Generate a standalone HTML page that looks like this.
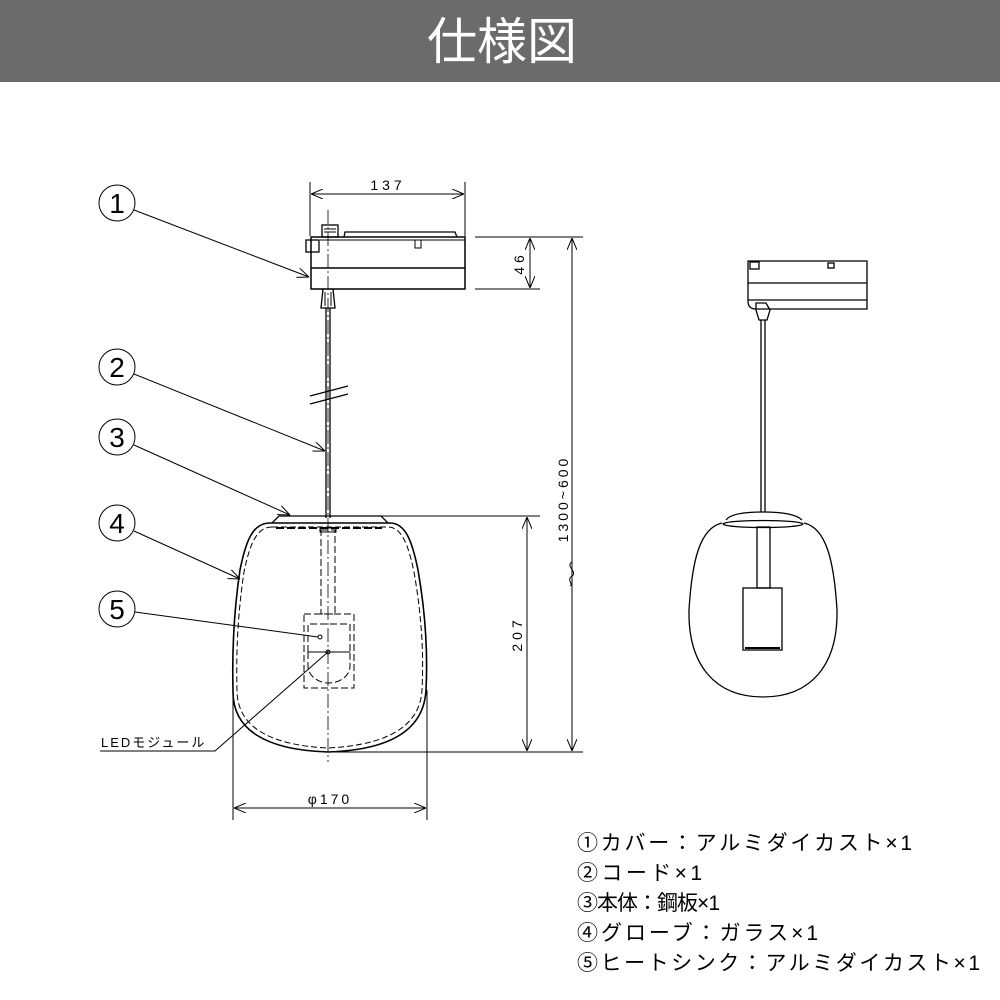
<!DOCTYPE html>
<html><head><meta charset="utf-8"><style>
html,body{margin:0;padding:0;background:#fff;}
svg{display:block;}
text{font-family:"Liberation Sans","Noto Sans CJK JP",sans-serif;}
</style></head><body>
<svg width="1000" height="1000" viewBox="0 0 1000 1000" xmlns="http://www.w3.org/2000/svg">
<defs>
<marker id="a" viewBox="0 0 12 10" refX="12" refY="5" markerWidth="12" markerHeight="10" orient="auto-start-reverse" markerUnits="userSpaceOnUse">
<path d="M0,0 L12,5 L0,10" fill="none" stroke="#000" stroke-width="1"/>
</marker>
</defs>
<rect x="0" y="0" width="1000" height="82" fill="#6b6b6b"/>
<text x="502" y="59" font-size="50" fill="#fff" text-anchor="middle" font-family="'Noto Sans CJK JP',sans-serif">仕様図</text>

<g stroke="#000" fill="none" stroke-width="1">
<line x1="310" y1="182" x2="310" y2="236"/>
<line x1="465" y1="182" x2="465" y2="236"/>
<line x1="311" y1="194" x2="464" y2="194" marker-start="url(#a)" marker-end="url(#a)"/>
<line x1="328" y1="210" x2="328" y2="762" stroke-dasharray="14,3,2,3" stroke-width="0.8"/>
<rect x="311" y="237" width="154" height="52" stroke-width="1.5"/>
<line x1="311" y1="268" x2="465" y2="268" stroke-width="1.5"/>
<path d="M344,237 L345,232 L455,232 L457,237" stroke-width="1.3"/>
<line x1="320" y1="240" x2="465" y2="240"/>
<rect x="306" y="240" width="13" height="12" stroke-width="1.3"/>
<rect x="322" y="225" width="16" height="12" stroke-width="1.3"/>
<line x1="324" y1="229" x2="336" y2="229"/><line x1="324" y1="232" x2="336" y2="232"/>
<path d="M415,240 L415,248 L421,248 L421,240"/>
<path d="M323,289 L321,308 L335,308 L333,289" stroke-width="1.3"/>
<line x1="325" y1="292" x2="325" y2="306"/><line x1="331" y1="292" x2="331" y2="306"/>
<line x1="326" y1="308" x2="326" y2="518" stroke-width="1.3"/>
<line x1="330" y1="308" x2="330" y2="518" stroke-width="1.3"/>
<line x1="310" y1="396" x2="348" y2="386" stroke-width="1.2"/>
<line x1="310" y1="404" x2="348" y2="394" stroke-width="1.2"/>
<line x1="475" y1="237" x2="583" y2="237"/>
<line x1="475" y1="289" x2="540" y2="289"/>
<line x1="530" y1="238" x2="530" y2="288" marker-start="url(#a)" marker-end="url(#a)"/>
<line x1="572" y1="238" x2="572" y2="751" marker-start="url(#a)" marker-end="url(#a)"/>
<path d="M572,562 C565,566 578,572 572,576 C566,580 574,584 570,586"/>
<line x1="380" y1="516" x2="540" y2="516"/>
<line x1="527" y1="517" x2="527" y2="751" marker-start="url(#a)" marker-end="url(#a)"/>
<line x1="330" y1="752" x2="583" y2="752"/>
<path d="M270,523 L390,523 C405,523 412,540 418,570 C425,610 428,650 426,690 C424,730 390,750 328,752 C266,750 232,730 233,690 C232,650 234,610 240,570 C246,540 253,523 270,523 Z" stroke-width="1.6"/>
<path d="M272,527 L388,527 C401,527 408,543 414,572 C421,612 424,650 422,690 C420,726 388,745 328,748 C268,745 237,726 237,690 C236,650 238,612 244,572 C250,543 257,527 272,527 Z" stroke-dasharray="6,3"/>
<path d="M272,523 L279,516 L381,516 L388,523" stroke-width="1.3"/>
<line x1="276" y1="528" x2="382" y2="528" stroke-dasharray="8,3" stroke-width="2"/>
<rect x="321" y="530" width="14" height="84" stroke-dasharray="7,3"/>
<rect x="320" y="528" width="16" height="4"/>
<rect x="304" y="614" width="50" height="74" stroke-dasharray="7,3"/>
<path d="M308,652 L308,624 L350,624 L350,652" stroke-dasharray="7,3"/>
<line x1="308" y1="652" x2="350" y2="652"/>
<path d="M308,652 L308,666 A21,17 0 0 0 350,666 L350,652" stroke-dasharray="7,3"/>
<circle cx="320" cy="637" r="2"/>
<circle cx="328" cy="652" r="2"/>
<line x1="233" y1="690" x2="233" y2="820"/>
<line x1="427" y1="690" x2="427" y2="820"/>
<line x1="234" y1="808" x2="426" y2="808" marker-start="url(#a)" marker-end="url(#a)"/>
<circle cx="117" cy="203" r="18"/>
<circle cx="117" cy="367" r="18"/>
<circle cx="117" cy="437" r="18"/>
<circle cx="117" cy="523" r="18"/>
<circle cx="117" cy="609" r="18"/>
<line x1="134" y1="210" x2="309" y2="277" marker-end="url(#a)"/>
<line x1="134" y1="374" x2="325" y2="451" marker-end="url(#a)"/>
<line x1="134" y1="445" x2="290" y2="515" marker-end="url(#a)"/>
<line x1="134" y1="531" x2="240" y2="579" marker-end="url(#a)"/>
<line x1="135" y1="612" x2="318" y2="637"/>
<path d="M100,751 L215,751 L328,652"/>
</g>
<g font-size="28" text-anchor="middle" fill="#000">
<text x="117" y="213">1</text><text x="117" y="377">2</text><text x="117" y="447">3</text><text x="117" y="533">4</text><text x="117" y="619">5</text>
</g>
<g font-size="14" fill="#000">
<text x="388" y="190" text-anchor="middle" letter-spacing="4">137</text>
<text x="330" y="804" text-anchor="middle" letter-spacing="3">φ170</text>
<text x="101" y="747" font-size="13" letter-spacing="2">LEDモジュール</text>
<text transform="translate(524,263) rotate(-90)" text-anchor="middle" letter-spacing="4">46</text>
<text transform="translate(522,634) rotate(-90)" text-anchor="middle" letter-spacing="4">207</text>
<text transform="translate(568,499) rotate(-90)" text-anchor="middle" letter-spacing="3">1300~600</text>
</g>

<g stroke="#000" fill="none" stroke-width="1.3">
<path d="M748,261 L867,261 L867,309 L756,309 Q748,309 748,301 Z"/>
<line x1="748" y1="283" x2="867" y2="283"/>
<line x1="748" y1="300" x2="867" y2="300"/>
<rect x="750" y="262" width="9" height="7"/>
<rect x="828" y="263" width="6" height="5"/>
<path d="M756,303 L760,303 L766,303 L770,310 L767,320 L759,320 L756,310 Z"/>
<line x1="761" y1="320" x2="761" y2="512"/>
<line x1="765" y1="320" x2="765" y2="512"/>
<path d="M726,520 C730,514 745,512 763,512 C781,512 796,514 802,520"/>
<ellipse cx="763" cy="524" rx="40" ry="3.5"/>
<path d="M722,523 C700,528 692,560 689,610 C688,665 715,697 763,697 C811,697 838,665 837,610 C834,560 826,528 804,523"/>
<rect x="757" y="527" width="13" height="61"/>
<rect x="743" y="588" width="39" height="62"/>
<line x1="745" y1="648" x2="780" y2="648" stroke-width="2"/>
</g>

<g font-size="21" fill="#000">
<text x="577" y="850" textLength="335" lengthAdjust="spacing">①カバー：アルミダイカスト×1</text>
<text x="577" y="880" textLength="125" lengthAdjust="spacing">②コード×1</text>
<text x="577" y="910" textLength="143" lengthAdjust="spacing">③本体：鋼板×1</text>
<text x="577" y="940" textLength="241" lengthAdjust="spacing">④グローブ：ガラス×1</text>
<text x="577" y="970" textLength="403" lengthAdjust="spacing">⑤ヒートシンク：アルミダイカスト×1</text>
</g>
</svg>
</body></html>
